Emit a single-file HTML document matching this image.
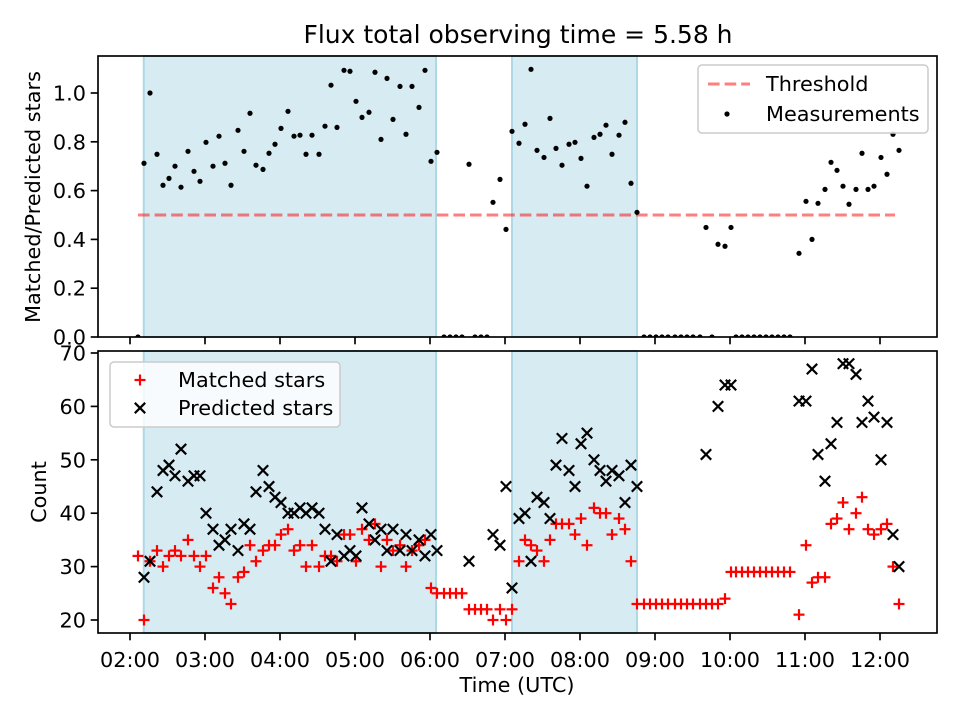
<!DOCTYPE html>
<html><head><meta charset="utf-8"><style>
html,body{margin:0;padding:0;background:#fff;}
svg text{font-family:"DejaVu Sans","Liberation Sans",sans-serif;fill:#000;}
</style></head><body>
<svg id="chart" width="960" height="720" viewBox="0 0 960 720" xmlns="http://www.w3.org/2000/svg">
<defs>
<clipPath id="clipTop"><rect x="98" y="56" width="839" height="281"/></clipPath>
<clipPath id="clipBot"><rect x="98" y="351" width="839" height="282"/></clipPath>
</defs>
<rect width="960" height="720" fill="#fff"/>
<text x="518" y="43" font-size="25" text-anchor="middle">Flux total observing time = 5.58 h</text>
<g id="topPanel"></g>
<g id="botPanel"></g>
<text x="517" y="692" font-size="20.8" text-anchor="middle">Time (UTC)</text>
<text transform="translate(40,197) rotate(-90)" font-size="20.8" text-anchor="middle">Matched/Predicted stars</text>
<text transform="translate(46,492) rotate(-90)" font-size="20.8" text-anchor="middle">Count</text>
</svg>
<script>
// minutes since 00:00 UTC
const times = [126.4,131.2,136,141.6,146.4,151.2,156,160.8,166.4,171.2,176,180.8,186.4,191.2,196,200.8,206.4,211.2,216,220.8,226.4,231.2,236,240.8,246.4,251.2,256,260.8,265.6,271.2,276,280.8,285.6,291.2,296,300.8,305.6,311.2,316,320.8,325.6,330.4,336,340.8,345.6,351.2,356,360.8,365.6,371.2,376,380.8,385.6,391.2,396,400.8,405.6,410.4,416,420.8,425.6,431.2,436,440.8,445.6,451.2,456,460.8,465.6,471.2,476,480.8,485.6,491.2,496,500.8,505.6,511.2,516,520.8,525.6,531.2,536,540.8,545.6,550.4,556,560.8,565.6,570.4,576,580.8,585.6,590.4,596,600.8,604.8,609.6,614.4,619.2,624,628.8,633.6,638.4,643.2,648,655.2,660.8,665.6,670.4,676,680.8,685.6,690.4,695.2,700.8,705.6,710.4,715.2,720.8,725.6,730.4,735.2];
const ratios = [0,0.712,1.0,0.749,0.622,0.650,0.700,0.614,0.761,0.679,0.638,0.798,0.700,0.823,0.712,0.622,0.847,0.761,0.917,0.704,0.687,0.753,0.790,0.855,0.925,0.823,0.827,0.749,0.827,0.749,0.864,1.032,0.859,1.093,1.089,0.966,0.900,0.921,1.085,0.810,1.060,0.892,1.027,0.831,1.027,0.941,1.093,0.720,0.757,0,0,0,0,0.708,0,0,0,0.552,0.646,0.441,0.843,0.794,0.872,1.097,0.765,0.736,0.896,0.773,0.704,0.790,0.798,0.732,0.618,0.818,0.831,0.868,0.749,0.827,0.880,0.630,0.511,0,0,0,0,0,0,0,0,0,0,0.449,0,0.380,0.372,0.449,0,0,0,0,0,0,0,0,0,0,0.343,0.556,0.400,0.548,0.605,0.716,0.683,0.618,0.544,0.605,0.753,0.605,0.618,0.736,0.667,0.831,0.765];
const matched = [32,20,31,33,30,32,33,32,35,32,30,32,26,28,25,23,28,29,34,31,33,34,34,36,37,33,34,30,34,30,32,32,31,36,36,31,37,35,38,30,35,33,34,30,33,34,35,26,25,25,25,25,25,22,22,22,22,20,22,20,22,31,35,34,33,31,35,38,38,38,36,39,34,41,40,40,36,39,37,31,23,23,23,23,23,23,23,23,23,23,23,23,23,23,24,29,29,29,29,29,29,29,29,29,29,29,21,34,27,28,28,38,39,42,37,40,43,37,36,37,38,30,23];
const predicted = [null,28,31,44,48,49,47,52,46,47,47,40,37,34,35,37,33,38,37,44,48,45,43,42,40,40,41,40,41,40,37,31,36,32,33,32,41,38,35,37,33,37,33,36,33,35,32,36,33,null,null,null,null,31,null,null,null,36,34,45,26,39,40,31,43,42,39,49,54,48,45,53,55,50,48,46,48,47,42,49,45,null,null,null,null,null,null,null,null,null,null,51,null,60,64,64,null,null,null,null,null,null,null,null,null,null,61,61,67,51,46,53,57,68,68,66,57,61,58,50,57,36,30];
const ratioTicks = [0,0.2,0.4,0.6,0.8,1.0];
const countTicks = [20,30,40,50,60,70];
const hourTicks = [2,3,4,5,6,7,8,9,10,11,12];
const shadeStart = [131.0, 425.6];
const shadeEnd = [364.8, 525.6];
const thresholdValue = 0.5;
const thresholdRange = [126.4, 732];

const NS = "http://www.w3.org/2000/svg";
const L = 98, R = 937;
const FS = 20.8;
function xS(m){ return 130 + (m - 120) * 1.25; }
function yTop(r){ return 337 - r * 244; }
function yBot(c){ return 620 - (c - 20) * 5.34; }
function mk(tag, attrs, parent){
  const el = document.createElementNS(NS, tag);
  for (const k in attrs) el.setAttribute(k, attrs[k]);
  parent.appendChild(el);
  return el;
}
function pad(n){ return (n<10?"0":"")+n; }

function panel(g, top, bot, ticks, yFn, fmt, showX, clip, prefix){
  for (let i=0;i<shadeStart.length;i++){
    const r = mk("rect",{x:xS(shadeStart[i]),y:top,width:xS(shadeEnd[i])-xS(shadeStart[i]),height:bot-top,fill:"#add8e6","fill-opacity":0.5,stroke:"#add8e6","stroke-width":2},g);
    
    
  }
  ticks.forEach(v=>{
    const y = yFn(v);
    const t = mk("line",{x1:L-7.3,x2:L,y1:y,y2:y,stroke:"#000","stroke-width":1.67},g);
    
    
    const lb = mk("text",{x:L-12,y:y+7.5,"font-size":FS,"text-anchor":"end"},g);
    lb.textContent = fmt(v);
    
    
  });
  hourTicks.forEach(h=>{
    const x = xS(h*60);
    const t = mk("line",{x1:x,x2:x,y1:bot,y2:bot+7.3,stroke:"#000","stroke-width":1.67},g);
    
    
    if (showX){
      const lb = mk("text",{x:x,y:bot+34,"font-size":FS,"text-anchor":"middle"},g);
      lb.textContent = pad(h)+":00";
      
      
    }
  });
  const marks = mk("g",{"clip-path":"url(#"+clip+")"},g);
  return marks;
}

// top panel
const gT = document.getElementById("topPanel");
const mT = panel(gT,56,337,ratioTicks,yTop,v=>v.toFixed(1),false,"clipTop","top");
const th = mk("line",{x1:xS(thresholdRange[0]),x2:xS(thresholdRange[1]),y1:yTop(thresholdValue),y2:yTop(thresholdValue),stroke:"#ff0000","stroke-opacity":0.5,"stroke-width":3,"stroke-dasharray":"11.6,5"},mT);


times.forEach((t,i)=>{
  const c = mk("circle",{cx:xS(t),cy:yTop(ratios[i]),r:2.6,fill:"#000"},mT);
  
  
});
const frT = mk("rect",{x:L,y:56,width:R-L,height:281,fill:"none",stroke:"#000","stroke-width":1.67},gT);


// top legend
const lgT = mk("g",{},gT);


mk("rect",{x:698,y:65,width:230,height:68,rx:4,fill:"#fff","fill-opacity":0.8,stroke:"#ccc","stroke-width":1.5},lgT);
mk("line",{x1:708,x2:750,y1:84,y2:84,stroke:"#ff0000","stroke-opacity":0.5,"stroke-width":3,"stroke-dasharray":"11.6,5"},lgT);
const tl1 = mk("text",{x:766,y:91,"font-size":FS},lgT); tl1.textContent="Threshold";


mk("circle",{cx:727,cy:114,r:2.6,fill:"#000"},lgT);
const tl2 = mk("text",{x:766,y:121,"font-size":FS},lgT); tl2.textContent="Measurements";



// bottom panel
const gB = document.getElementById("botPanel");
const mB = panel(gB,351,633,countTicks,yBot,v=>String(v),true,"clipBot","bottom");
function plus(x,y,parent){
  const g = mk("g",{stroke:"#ff0000","stroke-width":2.2},parent);
  mk("line",{x1:x-5.5,x2:x+5.5,y1:y,y2:y},g);
  mk("line",{x1:x,x2:x,y1:y-5.5,y2:y+5.5},g);
  return g;
}
function cross(x,y,parent){
  const g = mk("g",{stroke:"#000","stroke-width":2.2},parent);
  mk("line",{x1:x-5.2,x2:x+5.2,y1:y-5.2,y2:y+5.2},g);
  mk("line",{x1:x-5.2,x2:x+5.2,y1:y+5.2,y2:y-5.2},g);
  return g;
}
times.forEach((t,i)=>{
  const p = plus(xS(t),yBot(matched[i]),mB);
  
  
});
times.forEach((t,i)=>{
  if (predicted[i]===null) return;
  const p = cross(xS(t),yBot(predicted[i]),mB);
  
  
});
const frB = mk("rect",{x:L,y:351,width:R-L,height:282,fill:"none",stroke:"#000","stroke-width":1.67},gB);


const lgB = mk("g",{},gB);


mk("rect",{x:110,y:362,width:230,height:65,rx:4,fill:"#fff","fill-opacity":0.8,stroke:"#ccc","stroke-width":1.5},lgB);
plus(140,380,lgB);
const bl1 = mk("text",{x:178,y:387,"font-size":FS},lgB); bl1.textContent="Matched stars";


cross(140,408,lgB);
const bl2 = mk("text",{x:178,y:415,"font-size":FS},lgB); bl2.textContent="Predicted stars";


</script>
</body></html>
